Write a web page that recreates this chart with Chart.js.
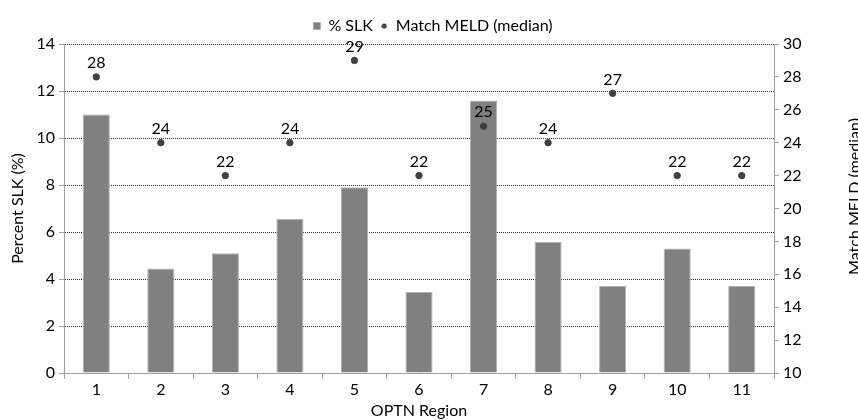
<!DOCTYPE html>
<html>
<head>
<meta charset="utf-8">
<script src="https://cdn.jsdelivr.net/npm/chart.js@4"></script>
<style>
  html, body { margin: 0; padding: 0; background: #fff; }
  #wrap { width: 858px; height: 420px; }
</style>
</head>
<body>
<div id="wrap"><canvas id="chart" width="858" height="420"></canvas></div>
<script>
const regions = ["1", "2", "3", "4", "5", "6", "7", "8", "9", "10", "11"];
const pctSLK = [11.0, 4.45, 5.1, 6.55, 7.9, 3.45, 11.6, 5.57, 3.7, 5.3, 3.7];
const meldMedian = [28, 24, 22, 24, 29, 22, 25, 24, 27, 22, 22];

const FONT = "Lato, 'Open Sans', sans-serif";

// small dot for the legend (the default circle comes out too big)
const dot = document.createElement("canvas");
dot.width = 6; dot.height = 6;
const dctx = dot.getContext("2d");
dctx.fillStyle = "#404040";
dctx.beginPath(); dctx.arc(3, 3, 2.6, 0, Math.PI * 2); dctx.fill();

// labels above the MELD points
const pointLabels = {
  id: "pointLabels",
  afterDatasetsDraw(c) {
    const meta = c.getDatasetMeta(1);
    const ctx = c.ctx;
    ctx.save();
    ctx.font = "16px " + FONT;
    ctx.fillStyle = "#000";
    ctx.textAlign = "center";
    ctx.textBaseline = "bottom";
    meta.data.forEach((p, i) => {
      ctx.fillText(String(meldMedian[i]), p.x, p.y - 6);
    });
    ctx.restore();
  }
};

// right axis title reads bottom-to-top, like the left one
const rightTitle = {
  id: "rightTitle",
  afterDraw(c) {
    const s = c.scales.y1;
    const ctx = c.ctx;
    ctx.save();
    ctx.translate(s.right + 2, (s.top + s.bottom) / 2 - 12);
    ctx.rotate(-Math.PI / 2);
    ctx.font = "16px " + FONT;
    ctx.fillStyle = "#000";
    ctx.textAlign = "center";
    ctx.textBaseline = "alphabetic";
    ctx.fillText("Match MELD (median)", 0, 0);
    ctx.restore();
  }
};

new Chart(document.getElementById("chart"), {
  data: {
    labels: regions,
    datasets: [
      {
        type: "bar", label: "% SLK", data: pctSLK, yAxisID: "y",
        backgroundColor: "#808080", borderColor: "#b0b0b0", borderWidth: 1,
        barPercentage: 0.84, categoryPercentage: 0.5,
        pointStyle: "rect", order: 2
      },
      {
        type: "line", label: "Match MELD (median)", data: meldMedian, yAxisID: "y1",
        showLine: false, pointRadius: 3.2, pointHoverRadius: 3.2,
        pointBackgroundColor: "#404040", pointBorderColor: "#404040",
        pointStyle: "circle", order: 1
      }
    ]
  },
  options: {
    responsive: false,
    animation: false,
    layout: { padding: { top: 10, left: 8, right: 0, bottom: 0 } },
    plugins: {
      tooltip: { enabled: false },
      legend: {
        position: "top",
        labels: {
          usePointStyle: true, boxWidth: 7, boxHeight: 7,
          color: "#000", font: { family: FONT, size: 16 }, padding: 8,
          sort: (a, b) => a.datasetIndex - b.datasetIndex,
          generateLabels(c) {
            const items = Chart.defaults.plugins.legend.labels.generateLabels(c);
            items.forEach(it => { if (it.datasetIndex === 1) it.pointStyle = dot; });
            return items;
          }
        }
      }
    },
    scales: {
      x: {
        offset: true,
        grid: { offset: true, drawOnChartArea: false, tickLength: 6, color: "#a0a0a0" },
        border: { color: "#a0a0a0" },
        ticks: { color: "#000", font: { family: FONT, size: 16 }, padding: 1 },
        title: { display: true, text: "OPTN Region", color: "#000", font: { family: FONT, size: 16 }, padding: 0 },
        afterFit(s) { s.height = 47; }
      },
      y: {
        position: "left", min: 0, max: 14,
        ticks: { stepSize: 2, color: "#000", font: { family: FONT, size: 16 }, padding: 4 },
        grid: { color: "#303030", tickLength: 5, tickColor: "#a0a0a0", tickBorderDash: [] },
        border: { color: "#a0a0a0", dash: [1, 1] },
        title: { display: true, text: "Percent SLK (%)", color: "#000", font: { family: FONT, size: 16 }, padding: 0 },
        afterFit(s) { s.width = 56; }
      },
      y1: {
        position: "right", min: 10, max: 30,
        ticks: { stepSize: 2, color: "#000", font: { family: FONT, size: 16 }, padding: 4 },
        grid: { drawOnChartArea: false, tickLength: 5, color: "#a0a0a0" },
        border: { color: "#a0a0a0" },
        title: { display: false },
        afterFit(s) { s.width = 84; }
      }
    }
  },
  plugins: [pointLabels, rightTitle]
});
</script>
</body>
</html>
